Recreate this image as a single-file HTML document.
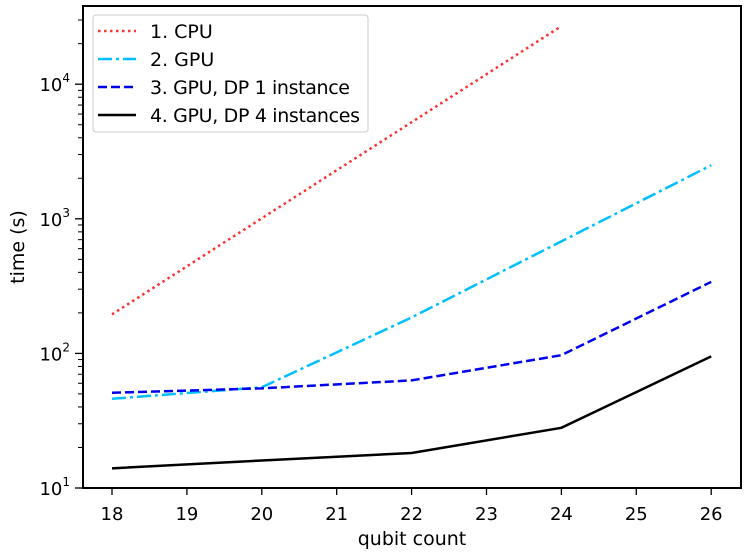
<!DOCTYPE html>
<html><head><meta charset="utf-8"><style>body{margin:0;background:#fff}svg{display:block}text{font-family:"DejaVu Sans","Liberation Sans",sans-serif;fill:#000}.tk{font-size:18px}.lg{font-size:19px}.lb{font-size:19px}</style></head>
<body>
<svg id="s" width="750" height="559" xmlns="http://www.w3.org/2000/svg">
<rect x="83" y="6" width="658" height="482" fill="#fff"/>
<g id="ticks"></g>
<g fill="none" stroke-width="2.5">
<polyline id="cpu" stroke="#ff3030" stroke-dasharray="2.5,3.5"/>
<polyline id="gpu" stroke="#00bfff" stroke-dasharray="14,4,3,4"/>
<polyline id="dp1" stroke="#0000ee" stroke-dasharray="9,4"/>
<polyline id="dp4" stroke="#000"/>
</g>
<rect x="83" y="6" width="658" height="482" fill="none" stroke="#000" stroke-width="2"/>
<rect x="93" y="15" width="275" height="117" rx="3" fill="#fff" fill-opacity="0.85" stroke="#ccc"/>
<g stroke-width="2.5">
<line x1="98" y1="31" x2="136" y2="31" stroke="#ff3030" stroke-dasharray="2.5,3.5"/>
<line x1="98" y1="59" x2="136" y2="59" stroke="#00bfff" stroke-dasharray="14,4,3,4"/>
<line x1="98" y1="87" x2="136" y2="87" stroke="#0000ee" stroke-dasharray="9,4"/>
<line x1="98" y1="115" x2="136" y2="115" stroke="#000"/>
</g>
<g class="lg">
<text x="150" y="38">1. CPU</text>
<text x="150" y="66">2. GPU</text>
<text x="150" y="94" textLength="200">3. GPU, DP 1 instance</text>
<text x="150" y="122" textLength="210">4. GPU, DP 4 instances</text>
</g>
<text x="412" y="545" class="lb" text-anchor="middle">qubit count</text>
<text transform="translate(24,247) rotate(-90)" class="lb" text-anchor="middle">time (s)</text>
</svg>
<script>
var ns="http://www.w3.org/2000/svg",g=document.getElementById("ticks");
function Y(v){return 488-134.6*(Math.log10(v)-1);}
function X(q){return 112+(q-18)*74.9;}
function el(t,a,txt){var e=document.createElementNS(ns,t);for(var k in a)e.setAttribute(k,a[k]);if(txt)e.textContent=txt;g.appendChild(e);return e;}
for(var q=18;q<=26;q++){var x=X(q);el("line",{x1:x,x2:x,y1:488,y2:495,stroke:"#000","stroke-width":1.3});el("text",{x:x,y:520,"class":"tk","text-anchor":"middle"},""+q);}
for(var d=1;d<=4;d++){for(var m=1;m<10;m++){var v=m*Math.pow(10,d);var y=Y(v);if(y<6)continue;el("line",{x1:m==1?75:78,x2:83,y1:y,y2:y,stroke:"#000","stroke-width":m==1?1.3:1});}
var t=el("text",{x:70,y:Y(Math.pow(10,d))+7,"class":"tk","text-anchor":"end"},"10");var ts=document.createElementNS(ns,"tspan");ts.setAttribute("dy","-9");ts.setAttribute("style","font-size:12px");ts.textContent=d;t.appendChild(ts);}
function set(id,pts){document.getElementById(id).setAttribute("points",pts.map(function(p){return X(p[0])+","+Y(p[1]);}).join(" "));}
set("cpu",[[18,195],[24,27000]]);
set("gpu",[[18,46],[20,56],[22,185],[24,680],[26,2500]]);
set("dp1",[[18,51],[20,55],[22,63],[24,97],[26,340]]);
set("dp4",[[18,14],[20,16],[22,18.2],[24,28],[26,95]]);
</script>
</body></html>
